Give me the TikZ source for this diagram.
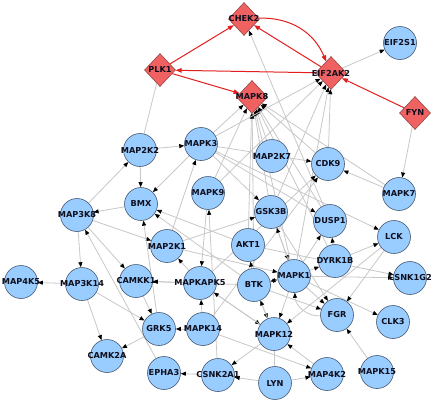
\documentclass[tikz,border=0pt]{standalone}
\usepackage{fontspec}
\setmainfont{DejaVu Sans}
\usetikzlibrary{shapes.geometric,arrows.meta,backgrounds}
\definecolor{nblue}{RGB}{153,204,255}
\definecolor{nborder}{RGB}{70,90,115}
\definecolor{dred}{RGB}{240,98,98}
\definecolor{dborder}{RGB}{150,70,70}
\definecolor{egray}{RGB}{200,200,200}
\definecolor{ered}{RGB}{228,30,30}
\definecolor{ltext}{RGB}{15,15,30}
\tikzset{
 cnode/.style={circle,draw=nborder,fill=nblue,minimum size=33pt,inner sep=0pt,line width=0.6pt},
 dnode/.style={diamond,draw=dborder,fill=dred,minimum width=31pt,minimum height=33pt,inner sep=0pt,line width=0.6pt},
 lbl/.style={font=\fontsize{8.2}{9}\selectfont\bfseries,text=ltext,inner sep=0pt},
 gedge/.style={draw=egray,line width=0.8pt,-{Triangle[length=5pt,width=4pt,color=black]}},
 gline/.style={draw=egray,line width=0.8pt},
 redge/.style={draw=ered,line width=1pt,-{Triangle[length=6pt,width=4.5pt]}},
}
\begin{document}
\begin{tikzpicture}[x=1pt,y=-1pt]
\useasboundingbox (0,0) rectangle (433,400);
% diamond nodes
\foreach \n/\p in {CHEK2/{244,19}, PLK1/{160,70}, EIF2AK2/{331,73}, MAPK8/{252,97}, FYN/{415,113}}
  \node[dnode] (\n) at (\p) {};
% circle nodes
\foreach \n/\p in {EIF2S1/{400,43}, MAP2K2/{140,150}, MAPK3/{201,144}, MAP2K7/{272,156},
  CDK9/{328,164}, MAPK7/{399,194}, MAPK9/{208,193}, BMX/{141,204}, MAP3K8/{77,215},
  GSK3B/{271,212}, DUSP1/{330,221}, LCK/{394,237}, MAP2K1/{167,246}, AKT1/{248,245},
  DYRK1B/{335,261}, MAP4K5/{21,282}, MAP3K14/{82,284}, CAMKK1/{136,281},
  MAPKAPK5/{200,283}, BTK/{254,285}, MAPK1/{294,276}, CSNK1G2/{410,278},
  GRK5/{159,329}, MAPK14/{203,329}, FGR/{337,315}, CLK3/{393,322}, MAPK12/{274,334},
  CAMK2A/{107,356}, EPHA3/{164,373}, CSNK2A1/{218,375}, LYN/{275,383},
  MAP4K2/{327,374}, MAPK15/{377,372}}
  \node[cnode] (\n) at (\p) {};
% labels
\foreach \n in {CHEK2,PLK1,EIF2AK2,MAPK8,FYN,EIF2S1,MAP2K2,MAPK3,MAP2K7,CDK9,MAPK7,MAPK9,
  BMX,MAP3K8,GSK3B,DUSP1,LCK,MAP2K1,AKT1,DYRK1B,MAP4K5,MAP3K14,CAMKK1,MAPKAPK5,BTK,
  MAPK1,CSNK1G2,GRK5,MAPK14,FGR,CLK3,MAPK12,CAMK2A,EPHA3,CSNK2A1,LYN,MAP4K2,MAPK15}
  \node[lbl] at (\n) {\n};
\begin{pgfonlayer}{background}
\fill[white] (0,0) rectangle (433,400);
% gray edges
\foreach \a/\b in {EIF2AK2/EIF2S1, FYN/MAPK7, MAP2K2/MAPK3, MAP2K2/BMX, MAP3K8/MAP2K2,
  MAPK3/BMX, MAPK3/MAPK8, MAPK3/GSK3B, MAPK3/CDK9, MAPK3/LCK, MAPK3/DUSP1,
  MAPK9/MAPK8, GSK3B/MAPK8, AKT1/MAPK8, BTK/MAPK8, MAPK1/MAPK8, MAP2K7/MAPK8,
  CDK9/MAPK8, MAPK7/MAPK8, DUSP1/MAPK8, DYRK1B/MAPK8,
  MAPK3/EIF2AK2, MAPK9/EIF2AK2, GSK3B/EIF2AK2, CDK9/EIF2AK2, MAPK1/EIF2AK2,
  DUSP1/CHEK2, MAPK7/CDK9, MAPKAPK5/CDK9, MAPK14/CDK9,
  BMX/MAP3K8, MAP3K8/MAP3K14, MAP3K8/CAMKK1, MAP3K8/MAP2K1, EPHA3/MAP3K8,
  MAP3K14/MAP4K5, MAP3K14/CAMK2A, MAP3K14/GRK5, CAMKK1/GRK5, GRK5/CAMK2A, GRK5/BMX,
  MAPK14/GRK5, MAPK14/MAPKAPK5, MAPKAPK5/CAMKK1, BTK/CAMKK1, MAPKAPK5/MAP2K1,
  MAPK9/MAPKAPK5, CSNK2A1/MAPK9, MAP2K1/MAPK3, MAP2K1/GSK3B, MAP2K1/MAPK1,
  AKT1/BMX, BTK/BMX, BTK/AKT1, GSK3B/MAPK1, MAPK1/GSK3B, DYRK1B/DUSP1, MAPK1/DUSP1,
  MAPK1/DYRK1B, DYRK1B/LCK, MAPK1/CSNK1G2, AKT1/CSNK1G2, MAPK1/CLK3, LCK/FGR,
  LCK/MAPK12, MAPK15/FGR, MAPK1/FGR, GSK3B/FGR, BTK/FGR, BTK/MAPK12, MAPK12/BTK,
  MAPK1/MAPK12, MAPKAPK5/MAPK12, MAP4K2/MAPK12, MAPK14/MAP4K2, LYN/MAP4K2,
  MAPK12/CSNK2A1, LYN/CSNK2A1, CSNK2A1/EPHA3, MAPK12/MAPKAPK5, BTK/MAPK1, MAPK1/BTK}
  \draw[gedge] (\a) -- (\b);
\draw[gline] (PLK1) -- (MAP2K2);
\draw[gline] (LYN) -- (MAPK12);
\draw[gedge] (FGR) to[bend left=45] (MAPK1);
% red edges
\draw[redge] (PLK1) -- (CHEK2);
\draw[redge] (CHEK2) to[bend left=35] (EIF2AK2);
\draw[redge] (EIF2AK2) -- (CHEK2);
\draw[redge] (EIF2AK2) -- (PLK1);
\draw[redge] (PLK1) -- (MAPK8);
\draw[redge] (FYN) -- (EIF2AK2);
\end{pgfonlayer}
\end{tikzpicture}
\end{document}
